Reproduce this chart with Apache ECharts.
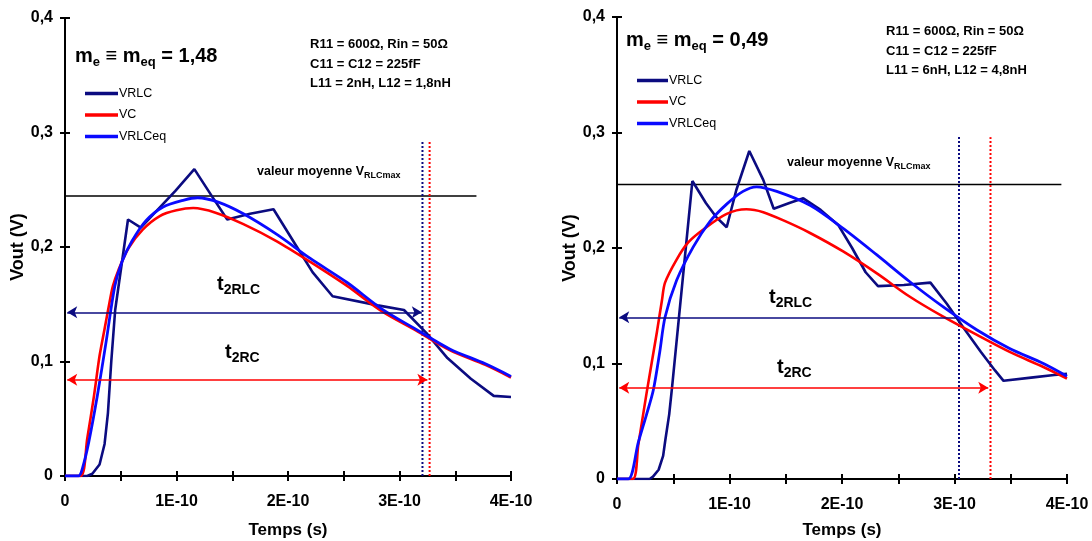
<!DOCTYPE html>
<html><head><meta charset="utf-8">
<script src="https://cdn.jsdelivr.net/npm/echarts@6/dist/echarts.min.js"></script>
<style>html,body{margin:0;padding:0;background:#fff}#c{width:1092px;height:541px}</style>
</head><body><div id="c"></div>
<script>
// Time in units of 1E-10 s, voltage in V
const xTickLabels = ['0', '1E-10', '2E-10', '3E-10', '4E-10'];
const yTickLabels = ['0', '0,1', '0,2', '0,3', '0,4'];

// ---- Left chart (me = meq = 1,48) ----
const vrlcL = [[0,0],[0.2,0],[0.245,0.002],[0.31,0.01],[0.355,0.028],[0.385,0.055],[0.415,0.1],[0.45,0.145],[0.565,0.224],[0.68,0.217],[0.99,0.249],[1.16,0.268],[1.32,0.244],[1.455,0.224],[1.66,0.229],[1.87,0.233],[2.08,0.2],[2.22,0.178],[2.4,0.157],[2.805,0.149],[3.04,0.145],[3.24,0.125],[3.43,0.103],[3.64,0.085],[3.845,0.07],[4.0,0.069]];
const vcL = [[0,0],[0.14,0],[0.2,0.033],[0.26,0.07],[0.31,0.105],[0.354,0.128],[0.40,0.152],[0.43,0.166],[0.48,0.18],[0.57,0.199],[0.695,0.215],[0.85,0.227],[1.0,0.232],[1.15,0.234],[1.35,0.230],[1.6,0.22],[1.9,0.205],[2.2,0.187],[2.53,0.166],[2.84,0.144],[3.15,0.127],[3.45,0.11],[3.77,0.097],[4.0,0.086]];
const vrlceqL = [[0,0],[0.12,0],[0.16,0.008],[0.214,0.03],[0.29,0.07],[0.37,0.118],[0.447,0.166],[0.51,0.187],[0.6,0.205],[0.726,0.223],[0.88,0.235],[1.067,0.241],[1.19,0.243],[1.38,0.239],[1.6,0.229],[1.9,0.211],[2.2,0.19],[2.53,0.169],[2.84,0.146],[3.15,0.128],[3.45,0.111],[3.77,0.098],[4.0,0.087]];
const moyenneL = [[0,0.2445],[3.69,0.2445]];
const t2rlcDotL = [[3.206,0],[3.206,0.292]];
const t2rcDotL = [[3.27,0],[3.27,0.292]];
const t2rlcArrowL = [0.02, 3.2, 0.143];
const t2rcArrowL = [0.02, 3.25, 0.084];

// ---- Right chart (me = meq = 0,49) ----
const vrlcR = [[0,0],[0.29,0],[0.32,0.002],[0.37,0.008],[0.41,0.02],[0.43,0.034],[0.464,0.056],[0.49,0.08],[0.67,0.258],[0.79,0.239],[0.88,0.227],[0.975,0.218],[1.06,0.25],[1.176,0.284],[1.30,0.259],[1.393,0.234],[1.532,0.239],[1.656,0.243],[1.81,0.233],[1.966,0.22],[2.09,0.2],[2.21,0.179],[2.32,0.167],[2.55,0.168],[2.786,0.17],[2.93,0.152],[3.08,0.131],[3.235,0.11],[3.36,0.094],[3.436,0.085],[3.70,0.088],[3.885,0.09],[4.0,0.091]];
const vcR = [[0,0],[0.14,0],[0.19,0.03],[0.264,0.075],[0.356,0.128],[0.40,0.155],[0.427,0.17],[0.53,0.19],[0.635,0.205],[0.767,0.216],[0.975,0.2295],[1.15,0.2335],[1.3,0.231],[1.5,0.223],[1.716,0.213],[2.01,0.197],[2.31,0.178],[2.6,0.158],[2.9,0.1405],[3.2,0.1247],[3.49,0.110],[3.79,0.097],[4.0,0.087]];
const vrlceqR = [[0,0],[0.1,0],[0.19,0.032],[0.263,0.056],[0.323,0.077],[0.38,0.11],[0.427,0.14],[0.53,0.172],[0.678,0.201],[0.827,0.223],[0.975,0.238],[1.12,0.249],[1.24,0.253],[1.42,0.249],[1.716,0.237],[2.01,0.217],[2.31,0.194],[2.6,0.171],[2.9,0.149],[3.2,0.129],[3.49,0.113],[3.79,0.100],[4.0,0.089]];
const moyenneR = [[0,0.255],[3.95,0.255]];
const t2rlcDotR = [[3.04,0],[3.04,0.296]];
const t2rcDotR = [[3.32,0],[3.32,0.296]];
const t2rlcArrowR = [0.02, 3.02, 0.140];
const t2rcArrowR = [0.02, 3.3, 0.079];

const FONT = 'Arial, "Liberation Sans", sans-serif';
const NAVY = '#0b0b80', RED = '#ff0000', BLUE = '#0a0aff';

function xLabel(v) { return Number.isInteger(v) ? xTickLabels[v] : ''; }
function yLabel(v) { return yTickLabels[Math.round(v * 10)]; }

function mainX(gi, gap) {
  return { type: 'value', gridIndex: gi, min: 0, max: 4, interval: 0.5,
    name: 'Temps (s)', nameLocation: 'middle', nameGap: gap,
    nameTextStyle: { fontFamily: FONT, fontWeight: 'bold', fontSize: 17, color: '#000' },
    axisLine: { lineStyle: { color: '#000', width: 2 } },
    axisTick: { show: true, length: 5, lineStyle: { color: '#000', width: 2 } },
    axisLabel: { formatter: xLabel, fontFamily: FONT, fontWeight: 'bold', fontSize: 16, color: '#000', margin: 18, showMinLabel: true, showMaxLabel: true },
    splitLine: { show: false } };
}
function innerX(gi) {
  return { type: 'value', gridIndex: gi, min: 0, max: 4, interval: 0.5, position: 'bottom',
    axisLine: { show: false }, axisLabel: { show: false }, splitLine: { show: false },
    axisTick: { show: true, inside: true, length: 5, lineStyle: { color: '#000', width: 2 } } };
}
function mainY(gi, gap) {
  return { type: 'value', gridIndex: gi, min: 0, max: 0.4, interval: 0.1,
    name: 'Vout (V)', nameLocation: 'middle', nameGap: gap, nameRotate: 90,
    nameTextStyle: { fontFamily: FONT, fontWeight: 'bold', fontSize: 18, color: '#000' },
    axisLine: { show: true, lineStyle: { color: '#000', width: 2 } },
    axisTick: { show: true, length: 5, lineStyle: { color: '#000', width: 2 } },
    axisLabel: { formatter: yLabel, fontFamily: FONT, fontWeight: 'bold', fontSize: 16, color: '#000', margin: 12 },
    splitLine: { show: false } };
}
function innerY(gi) {
  return { type: 'value', gridIndex: gi, min: 0, max: 0.4, interval: 0.1, position: 'left',
    axisLine: { show: false }, axisLabel: { show: false }, splitLine: { show: false },
    axisTick: { show: true, inside: true, length: 5, lineStyle: { color: '#000', width: 2 } } };
}

function curve(name, data, color, width, xi, smooth) {
  return { name, type: 'line', data, xAxisIndex: xi, yAxisIndex: xi, showSymbol: false, symbol: 'none',
    smooth: smooth, lineStyle: { color, width }, itemStyle: { color }, z: 3 };
}
function dotted(data, color, xi) {
  return { type: 'line', data, xAxisIndex: xi, yAxisIndex: xi, showSymbol: false, symbol: 'none',
    lineStyle: { color, width: 2, type: [2, 2] }, z: 2, silent: true };
}
function arrowLine(a, color, symbols) {
  return [{ coord: [a[0], a[2]], symbol: symbols[0] }, { coord: [a[1], a[2]], symbol: symbols[1],
    lineStyle: { color, width: 1.6, type: 'solid' } }];
}
function meanSeries(data, xi, arrows) {
  return { type: 'line', data, xAxisIndex: xi, yAxisIndex: xi, showSymbol: false, symbol: 'none',
    lineStyle: { color: '#000', width: 1.6 }, z: 2, silent: true,
    markLine: { silent: true, animation: false, symbolSize: [9, 10], label: { show: false },
      lineStyle: { width: 1.6, type: 'solid' }, data: arrows } };
}

function txt(left, top, text, rich) {
  return { type: 'text', left, top, style: { text, rich, font: 'bold 12px ' + FONT, fill: '#000' } };
}
const titleRich = {
  m: { fontFamily: FONT, fontWeight: 'bold', fontSize: 20, color: '#000', verticalAlign: 'bottom', padding: [0,0,3,0] },
  s: { fontFamily: FONT, fontWeight: 'bold', fontSize: 13, color: '#000', verticalAlign: 'bottom' }
};
const paramRich = { p: { fontFamily: FONT, fontWeight: 'bold', fontSize: 13, color: '#000', lineHeight: 19.5 } };
const moyRich = {
  a: { fontFamily: FONT, fontWeight: 'bold', fontSize: 12.5, color: '#000', verticalAlign: 'bottom', padding: [0,0,2,0] },
  b: { fontFamily: FONT, fontWeight: 'bold', fontSize: 9, color: '#000', verticalAlign: 'bottom' }
};
function tRich(color) {
  return {
    t: { fontFamily: FONT, fontWeight: 'bold', fontSize: 20, color, verticalAlign: 'bottom', padding: [0,0,3,0] },
    s: { fontFamily: FONT, fontWeight: 'bold', fontSize: 14, color, verticalAlign: 'bottom' }
  };
}

const legendBase = { orient: 'vertical', icon: 'rect', itemHeight: 3.5, itemGap: 8.5,
  textStyle: { fontFamily: FONT, fontSize: 12.5, color: '#000', padding: [0,0,0,-4] },
  data: ['VRLC', 'VC', 'VRLCeq'], selectedMode: false };

const option = {
  animation: false,
  backgroundColor: '#fff',
  grid: [
    { left: 65, top: 18, width: 446, height: 458, containLabel: false, outerBoundsMode: 'none' },
    { left: 617, top: 17, width: 450, height: 462, containLabel: false, outerBoundsMode: 'none' }
  ],
  xAxis: [mainX(0, 46), mainX(1, 43), innerX(0), innerX(1)],
  yAxis: [mainY(0, 36), mainY(1, 36), innerY(0), innerY(1)],
  legend: [
    Object.assign({}, legendBase, { left: 80, top: 82, itemWidth: 33 }),
    Object.assign({}, legendBase, { left: 632, top: 69, itemWidth: 31 })
  ],
  series: [
    meanSeries(moyenneL, 0, [arrowLine(t2rlcArrowL, NAVY, ['arrow', 'arrow']), arrowLine(t2rcArrowL, RED, ['arrow', 'arrow'])]),
    dotted(t2rlcDotL, NAVY, 0),
    dotted(t2rcDotL, RED, 0),
    curve('VRLC', vrlcL, NAVY, 2.6, 0, false),
    curve('VC', vcL, RED, 2.6, 0, 0.3),
    curve('VRLCeq', vrlceqL, BLUE, 2.8, 0, 0.3),
    meanSeries(moyenneR, 1, [arrowLine(t2rlcArrowR, NAVY, ['arrow', 'none']), arrowLine(t2rcArrowR, RED, ['arrow', 'arrow'])]),
    dotted(t2rlcDotR, NAVY, 1),
    dotted(t2rcDotR, RED, 1),
    curve('VRLC', vrlcR, NAVY, 2.6, 1, false),
    curve('VC', vcR, RED, 2.6, 1, 0.3),
    curve('VRLCeq', vrlceqR, BLUE, 2.8, 1, 0.3)
  ],
  graphic: [
    txt(75, 46, '{m|m}{s|e}{m| ≡ m}{s|eq}{m| = 1,48}', titleRich),
    txt(310, 38, '{p|R11 = 600Ω, Rin = 50Ω}\n{p|C11 = C12 = 225fF}\n{p|L11 = 2nH, L12 = 1,8nH}', paramRich),
    txt(257, 165, '{a|valeur moyenne V}{b|RLCmax}', moyRich),
    txt(217, 274, '{t|t}{s|2RLC}', tRich(NAVY)),
    txt(225, 342, '{t|t}{s|2RC}', tRich(RED)),

    txt(626, 30, '{m|m}{s|e}{m| ≡ m}{s|eq}{m| = 0,49}', titleRich),
    txt(886, 25, '{p|R11 = 600Ω, Rin = 50Ω}\n{p|C11 = C12 = 225fF}\n{p|L11 = 6nH, L12 = 4,8nH}', paramRich),
    txt(787, 156, '{a|valeur moyenne V}{b|RLCmax}', moyRich),
    txt(769, 287, '{t|t}{s|2RLC}', tRich(NAVY)),
    txt(777, 357, '{t|t}{s|2RC}', tRich(RED))
  ]
};
echarts.init(document.getElementById('c'), null, { renderer: 'canvas' }).setOption(option);
</script></body></html>
